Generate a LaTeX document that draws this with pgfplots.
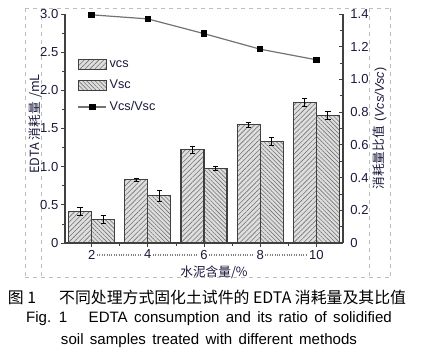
\documentclass[border=0pt]{standalone}
\usepackage{fontspec}
\setmainfont{Liberation Sans}
\newfontfamily\cjk{Noto Sans CJK SC}
\usepackage{pgfplots}
\pgfplotsset{compat=1.18}
\usetikzlibrary{patterns.meta}
\definecolor{txt}{RGB}{25,25,60}
\definecolor{barfill}{RGB}{222,222,222}
\definecolor{frame}{RGB}{190,190,190}
\newcommand\PX[2]{({#1*0.75pt},{(355-#2)*0.75pt})}
\tikzset{
  hatchA/.style={fill=barfill, draw=black!75, line width=0.8pt,
    postaction={pattern={Lines[angle=45,distance=2.6pt,line width=0.45pt]}, pattern color=black!55}},
  hatchB/.style={fill=barfill, draw=black!75, line width=0.8pt,
    postaction={pattern={Lines[angle=-45,distance=2.2pt,line width=0.45pt]}, pattern color=black!55}},
}
\pgfplotsset{
  mylinelegend/.style={legend image code/.code={\draw[mark repeat=2, mark phase=2, ##1] plot coordinates {(0pt,0pt) (10.5pt,0pt) (21pt,0pt)};}},
  legA/.style={legend image code/.code={\draw[hatchA] (0pt,-3.75pt) rectangle (21pt,3.75pt);}},
  legB/.style={legend image code/.code={\draw[hatchB] (0pt,-3.75pt) rectangle (21pt,3.75pt);}},
}
\begin{document}
\begin{tikzpicture}
\useasboundingbox (0,0) rectangle (315.75pt,266.25pt);
% Word frame (dashed)
\draw[frame, dashed, line width=0.5pt] \PX{25}{8} -- \PX{390}{8};
\draw[frame, dashed, line width=0.5pt] \PX{25}{277} -- \PX{390}{277};
\draw[frame, dashed, line width=0.5pt] \PX{25}{8} -- \PX{25}{277};
\draw[frame, dashed, line width=0.5pt] \PX{41}{8} -- \PX{41}{277};
\draw[frame, dashed, line width=0.5pt] \PX{369}{8} -- \PX{369}{277};
\draw[frame, dashed, line width=0.5pt] \PX{390}{8} -- \PX{390}{277};

\begin{axis}[
  at={(48.75pt,84pt)}, anchor=south west, scale only axis,
  width=208.5pt, height=171.75pt,
  xmin=1.05, xmax=10.95, ymin=0, ymax=3,
  axis y line*=left, axis x line*=bottom,
  axis line style={black!75, line width=0.8pt},
  xtick={2,4,6,8,10}, minor xtick={3,5,7,9},
  ytick={0,0.5,1,1.5,2,2.5,3}, yticklabels={0,0.5,1.0,1.5,2.0,2.5,3.0},
  minor ytick={0.25,0.75,1.25,1.75,2.25,2.75},
  tick align=outside, major tick length=3pt, minor tick length=2pt,
  tick style={black!75, line width=0.6pt},
  /pgf/number format/assume math mode=true,
  ticklabel style={font=\fontsize{9.8}{11}\selectfont, text=txt},
  yticklabel style={xshift=1.5pt},
  xticklabel style={yshift=-1pt, inner sep=1pt},
  ylabel={{\cjk EDTA 消耗量\,\,/mL}},
  ylabel style={at={(axis description cs:-0.108,0.52)}, anchor=center, font=\fontsize{9.5}{11}\selectfont, text=txt},
  xlabel={{\cjk 水泥含量/\%}},
  xlabel style={at={(axis description cs:0.536,-0.128)}, anchor=center, inner sep=1pt, font=\fontsize{9.5}{11}\selectfont, text=txt},
  clip=false,
]
% V_cs bars (left of each tick)
\addplot[ybar, bar width=0.82, hatchA,
  error bars/.cd, y dir=both, y explicit,
  error bar style={black, line width=0.6pt},
  error mark options={black, rotate=90, mark size=2pt, line width=0.6pt}]
  coordinates {(1.59,0.41) +- (0,0.05) (3.59,0.83) +- (0,0.02) (5.59,1.22) +- (0,0.04) (7.59,1.55) +- (0,0.035) (9.59,1.84) +- (0,0.055)};
% V_sc bars (right of each tick)
\addplot[ybar, bar width=0.82, hatchB,
  error bars/.cd, y dir=both, y explicit,
  error bar style={black, line width=0.6pt},
  error mark options={black, rotate=90, mark size=2pt, line width=0.6pt}]
  coordinates {(2.41,0.31) +- (0,0.05) (4.41,0.62) +- (0,0.07) (6.41,0.975) +- (0,0.03) (8.41,1.33) +- (0,0.055) (10.41,1.675) +- (0,0.055)};
\end{axis}

\begin{axis}[
  at={(48.75pt,84pt)}, anchor=south west, scale only axis,
  width=208.5pt, height=171.75pt,
  xmin=1.05, xmax=10.95, ymin=0, ymax=1.4,
  axis y line*=right, axis x line=none,
  axis line style={black!75, line width=0.8pt},
  ytick={0,0.2,0.4,0.6,0.8,1,1.2,1.4}, yticklabels={0,0.2,0.4,0.6,0.8,1.0,1.2,1.4},
  minor ytick={0.1,0.3,0.5,0.7,0.9,1.1,1.3},
  tick align=inside, major tick length=3pt, minor tick length=2pt,
  tick style={black!75, line width=0.6pt},
  /pgf/number format/assume math mode=true,
  ticklabel style={font=\fontsize{9.8}{11}\selectfont, text=txt},
  yticklabel style={xshift=2pt},
  ylabel={{\cjk 消耗量比值}\,\,(\textit{Vcs/Vsc})},
  ylabel style={at={(axis description cs:1.133,0.50)}, anchor=center, font=\fontsize{9.5}{11}\selectfont, text=txt},
  legend style={at={(0.045,0.81)}, anchor=north west, draw=none, fill=none,
    font=\fontsize{9.5}{11}\selectfont, text=txt, row sep=4pt, inner sep=0pt,
    cells={anchor=west}},
  clip=false,
]
\addlegendimage{legA}
\addlegendentry{vcs}
\addlegendimage{legB}
\addlegendentry{Vsc}
\addplot[black!55, line width=0.9pt, mark=square*, mark size=2pt, mark options={black, solid}, mylinelegend]
  coordinates {(2,1.395) (4,1.37) (6,1.28) (8,1.185) (10,1.12)};
\addlegendentry{Vcs/Vsc}
\end{axis}

% dotted leaders between x tick labels (Word space marks)
\foreach \a/\b in {97/142, 153/198, 209/253, 265/306}
  \draw[black!50, line width=0.9pt, dash pattern=on 0.6pt off 1.2pt] \PX{\a}{255} -- \PX{\b}{255};

% caption
\node[font=\cjk\fontsize{11.9}{13}\selectfont] at \PX{207}{297} {图 1\quad\ \ 不同处理方式固化土试件的 EDTA 消耗量及其比值};
\node[font=\fontsize{11.3}{13}\selectfont, execute at begin node={\spaceskip=0.42em plus 0.1em}] at \PX{209}{319} {Fig. 1\quad\ EDTA consumption and its ratio of solidified};
\node[font=\fontsize{11.3}{13}\selectfont, execute at begin node={\spaceskip=0.42em plus 0.1em}] at \PX{209}{341} {soil samples treated with different methods};
\end{tikzpicture}
\end{document}
